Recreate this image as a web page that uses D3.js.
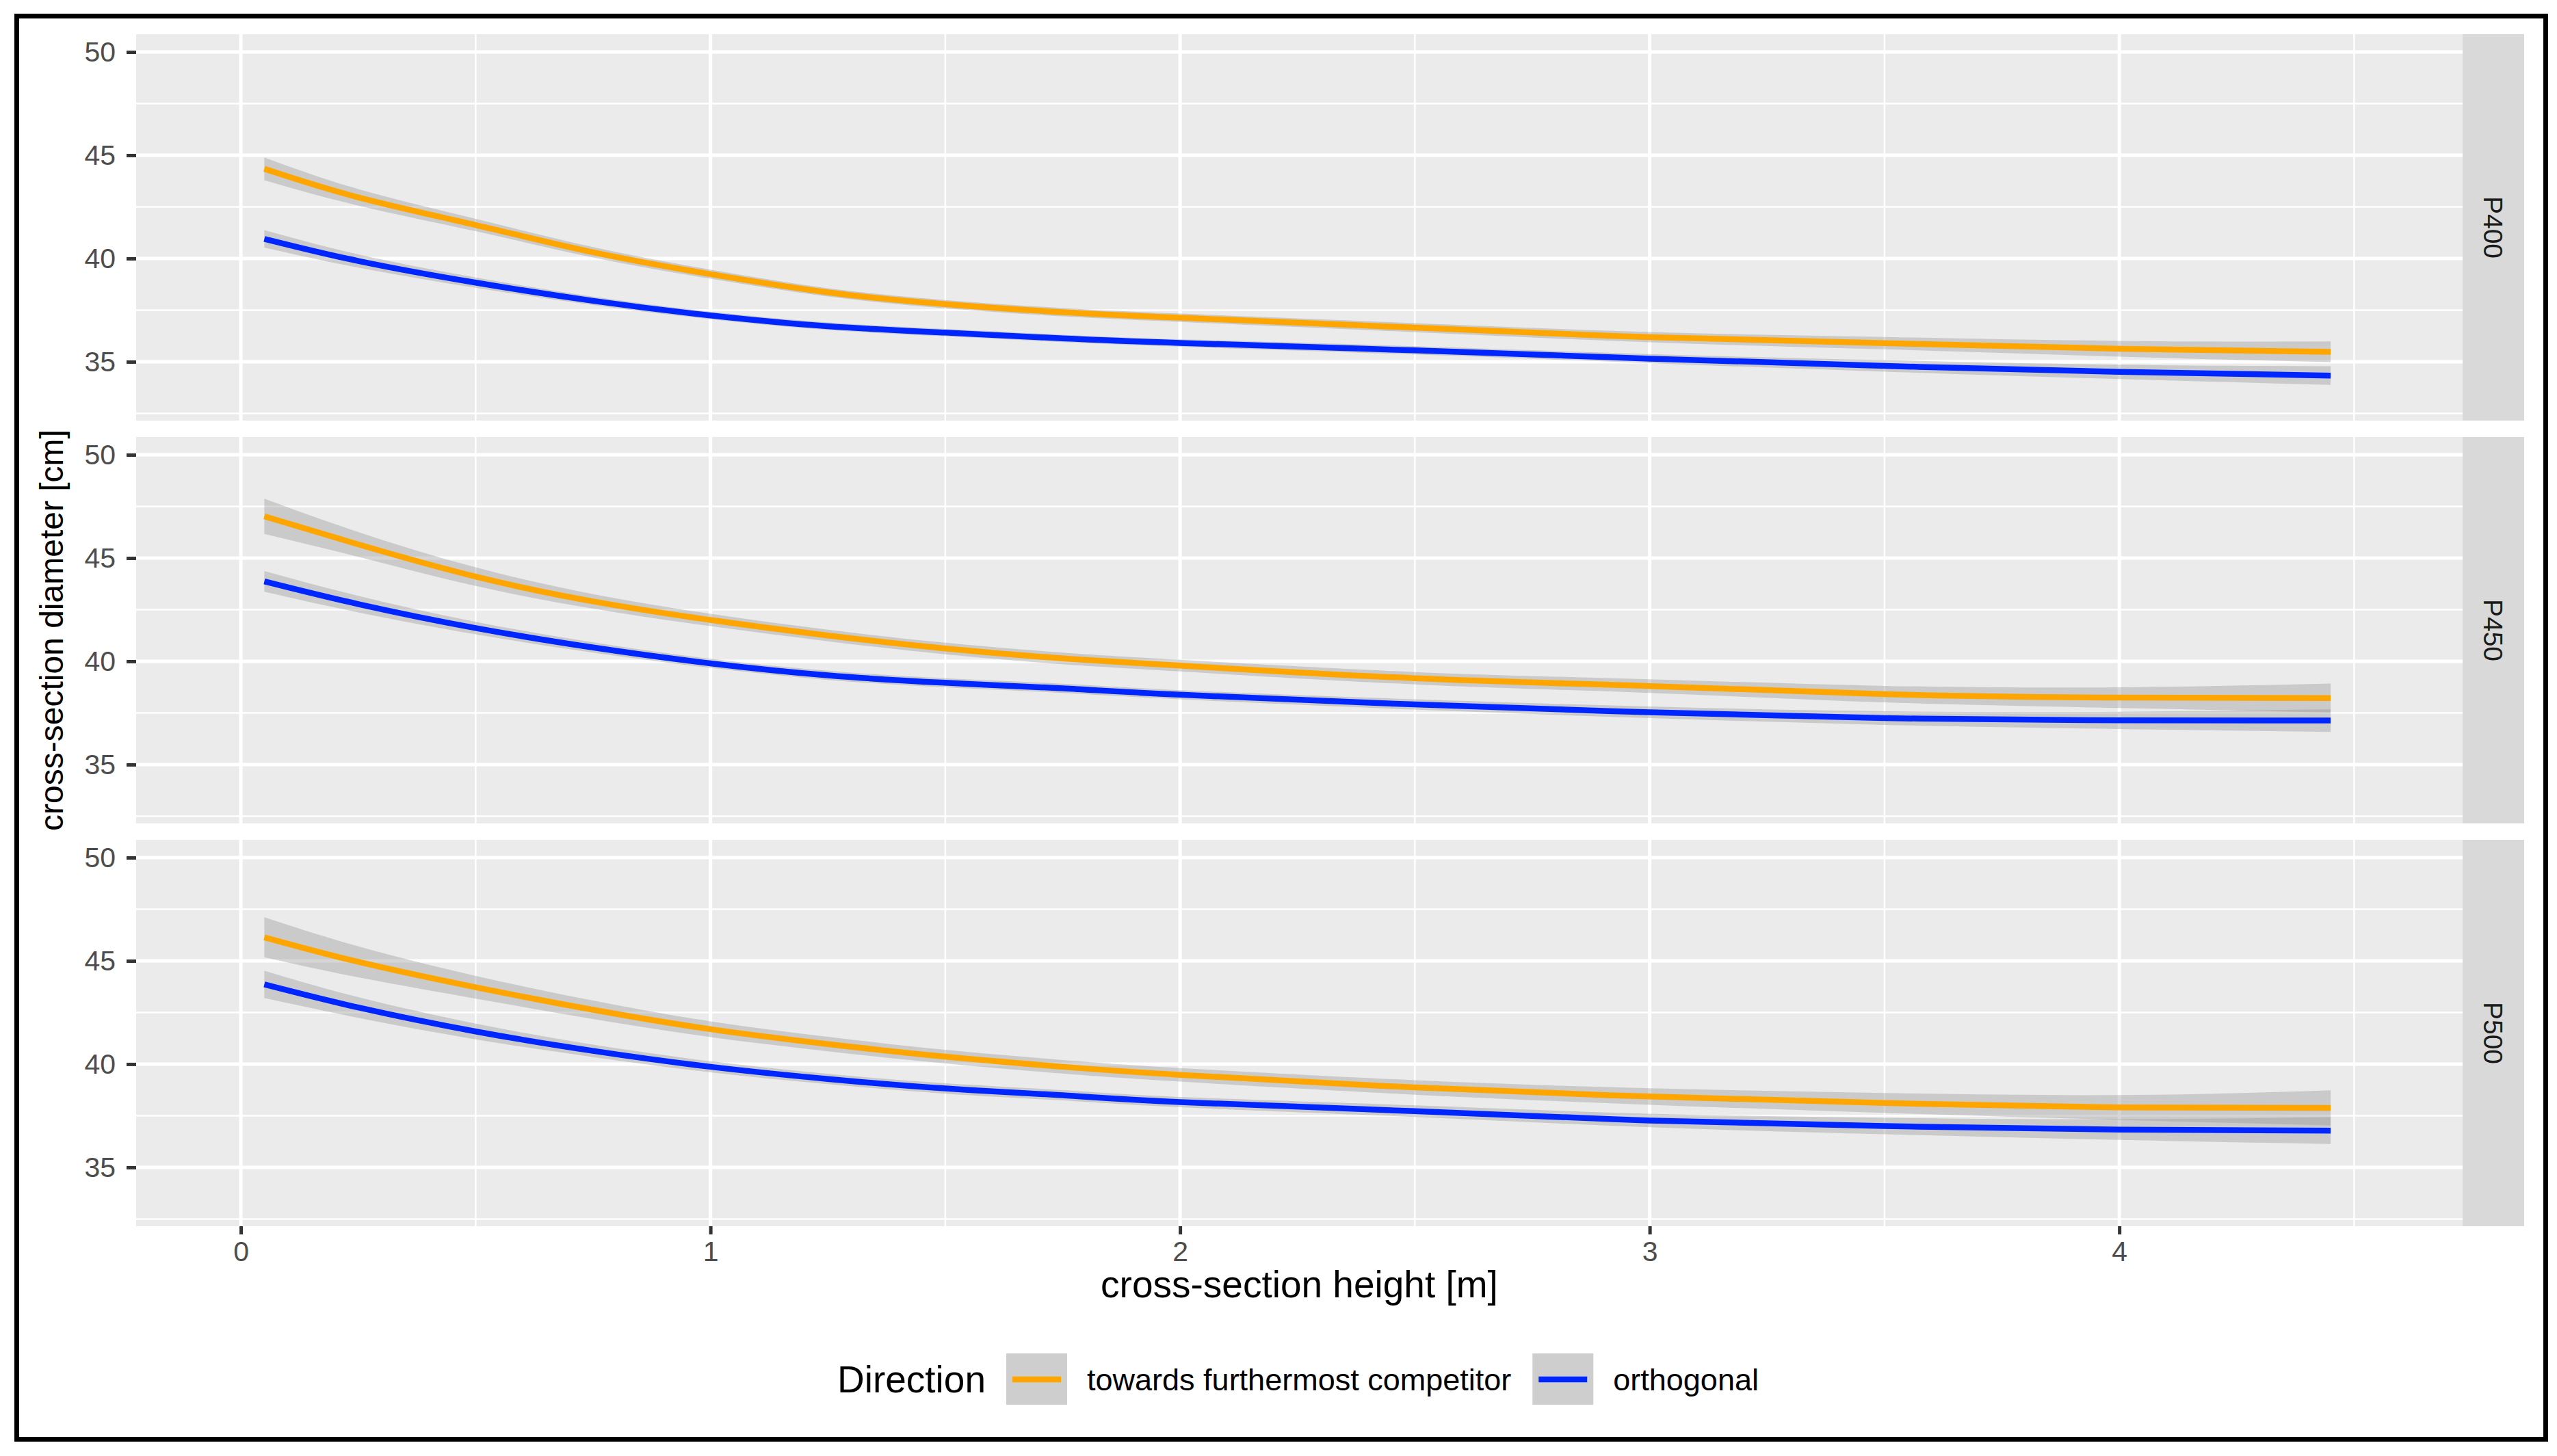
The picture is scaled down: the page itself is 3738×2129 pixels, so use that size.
<!DOCTYPE html>
<html lang="en">
<head>
  <meta charset="UTF-8">
  <title>Cross-section diameter by height</title>
  <script src="https://d3js.org/d3.v7.min.js"></script>
  <style>
    html, body { margin: 0; padding: 0; background: #fff; }
    svg text { font-family: "Liberation Sans", Arial, Helvetica, sans-serif; }
  </style>
</head>
<body>
  <svg id="chart" width="3738" height="2129"></svg>

  <script>
    // heights along the stem where the smooth was read [m]
    const heights = [0.05, 0.25, 0.5, 0.75, 1, 1.25, 1.5, 1.75, 2, 2.5, 3, 3.5, 4, 4.45];

    const facets     = ["P400", "P450", "P500"];
    const directions = ["towards furthermost competitor", "orthogonal"];
    const dirColors  = ["#FFA500", "#0026FF"];

    const xTicks = [0, 1, 2, 3, 4];
    const yTicks = [35, 40, 45, 50];

    // fitted diameter [cm]
    const p400Towards    = [44.34, 42.96, 41.62, 40.30, 39.24, 38.36, 37.79, 37.40, 37.13, 36.65, 36.19, 35.90, 35.63, 35.48];
    const p400Orthogonal = [40.95, 39.88, 38.83, 37.95, 37.24, 36.72, 36.41, 36.13, 35.91, 35.55, 35.15, 34.80, 34.51, 34.33];
    const p450Towards    = [47.02, 45.66, 44.10, 42.90, 42.00, 41.25, 40.62, 40.14, 39.79, 39.18, 38.80, 38.41, 38.24, 38.22];
    const p450Orthogonal = [43.87, 42.77, 41.61, 40.67, 39.90, 39.32, 38.96, 38.69, 38.38, 37.91, 37.53, 37.25, 37.14, 37.13];
    const p500Towards    = [46.14, 44.95, 43.72, 42.63, 41.69, 40.97, 40.36, 39.87, 39.48, 38.87, 38.43, 38.12, 37.90, 37.88];
    const p500Orthogonal = [43.86, 42.74, 41.58, 40.64, 39.87, 39.28, 38.82, 38.49, 38.16, 37.72, 37.27, 37.00, 36.83, 36.78];

    // half width of the confidence band [cm]
    const p400TowardsCi    = [0.55, 0.40, 0.30, 0.25, 0.22, 0.20, 0.20, 0.20, 0.20, 0.22, 0.25, 0.30, 0.38, 0.50];
    const p400OrthogonalCi = [0.42, 0.32, 0.25, 0.20, 0.18, 0.18, 0.18, 0.18, 0.18, 0.20, 0.22, 0.28, 0.35, 0.45];
    const p450TowardsCi    = [0.85, 0.60, 0.45, 0.35, 0.30, 0.28, 0.28, 0.28, 0.28, 0.30, 0.33, 0.40, 0.50, 0.70];
    const p450OrthogonalCi = [0.50, 0.40, 0.30, 0.25, 0.22, 0.22, 0.22, 0.22, 0.22, 0.25, 0.28, 0.33, 0.42, 0.55];
    const p500TowardsCi    = [0.97, 0.75, 0.55, 0.45, 0.38, 0.35, 0.33, 0.33, 0.33, 0.35, 0.40, 0.48, 0.60, 0.85];
    const p500OrthogonalCi = [0.66, 0.50, 0.38, 0.30, 0.27, 0.25, 0.25, 0.25, 0.25, 0.28, 0.33, 0.40, 0.50, 0.65];

    const fits = [[p400Towards, p400Orthogonal], [p450Towards, p450Orthogonal], [p500Towards, p500Orthogonal]];
    const cis  = [[p400TowardsCi, p400OrthogonalCi], [p450TowardsCi, p450OrthogonalCi], [p500TowardsCi, p500OrthogonalCi]];

    const svg = d3.select("#chart");

    // layout
    const left = 199, right = 3600;
    const panelH = 565, panelGap = 24, top0 = 50;
    const stripW = 90;

    const x = d3.scaleLinear().domain([-0.223, 4.731]).range([left, right]);
    const y = d3.scaleLinear().domain([32.15, 50.86]).range([panelH, 0]);

    // outer frame
    svg.append("rect")
      .attr("x", 24.5).attr("y", 23.5)
      .attr("width", 3697).attr("height", 2081)
      .attr("fill", "#fff")
      .attr("stroke", "#000")
      .attr("stroke-width", 7);

    const line = d3.line().curve(d3.curveNatural);
    const area = d3.area().curve(d3.curveNatural);

    facets.forEach((facet, fi) => {
      const g = svg.append("g")
        .attr("transform", `translate(0,${top0 + fi * (panelH + panelGap)})`);

      // panel background
      g.append("rect")
        .attr("x", left).attr("y", 0)
        .attr("width", right - left).attr("height", panelH)
        .attr("fill", "#EBEBEB");

      // minor grid
      const yMinor = [32.5, 37.5, 42.5, 47.5];
      const xMinor = [0.5, 1.5, 2.5, 3.5, 4.5];
      g.append("g").selectAll("line").data(yMinor).join("line")
        .attr("x1", left).attr("x2", right)
        .attr("y1", d => y(d)).attr("y2", d => y(d))
        .attr("stroke", "#fff").attr("stroke-width", 2.5);
      g.append("g").selectAll("line").data(xMinor).join("line")
        .attr("x1", d => x(d)).attr("x2", d => x(d))
        .attr("y1", 0).attr("y2", panelH)
        .attr("stroke", "#fff").attr("stroke-width", 2.5);

      // major grid
      g.append("g").selectAll("line").data(yTicks).join("line")
        .attr("x1", left).attr("x2", right)
        .attr("y1", d => y(d)).attr("y2", d => y(d))
        .attr("stroke", "#fff").attr("stroke-width", 5);
      g.append("g").selectAll("line").data(xTicks).join("line")
        .attr("x1", d => x(d)).attr("x2", d => x(d))
        .attr("y1", 0).attr("y2", panelH)
        .attr("stroke", "#fff").attr("stroke-width", 5);

      // confidence ribbons
      directions.forEach((dir, di) => {
        const fit = fits[fi][di], ci = cis[fi][di];
        const rows = heights.map((h, i) => ({ h, lo: fit[i] - ci[i], hi: fit[i] + ci[i] }));
        g.append("path")
          .attr("d", area.x(d => x(d.h)).y0(d => y(d.lo)).y1(d => y(d.hi))(rows))
          .attr("fill", "#999999")
          .attr("fill-opacity", 0.4);
      });

      // smooth lines
      directions.forEach((dir, di) => {
        const fit = fits[fi][di];
        g.append("path")
          .attr("d", line.x(d => x(d[0])).y(d => y(d[1]))(heights.map((h, i) => [h, fit[i]])))
          .attr("fill", "none")
          .attr("stroke", dirColors[di])
          .attr("stroke-width", 8.5);
      });

      // y axis
      const yAxis = g.append("g")
        .attr("transform", `translate(${left},0)`)
        .call(d3.axisLeft(y).tickValues(yTicks).tickSize(14).tickPadding(16));
      yAxis.select(".domain").remove();
      yAxis.selectAll("line").attr("stroke", "#333").attr("stroke-width", 5);
      yAxis.selectAll("text")
        .attr("fill", "#4D4D4D")
        .style("font-size", "41px");

      // facet strip
      g.append("rect")
        .attr("x", right).attr("y", 0)
        .attr("width", stripW).attr("height", panelH)
        .attr("fill", "#D9D9D9");
      g.append("text")
        .attr("transform", `translate(${right + stripW / 2},${panelH / 2}) rotate(90)`)
        .attr("text-anchor", "middle")
        .attr("dy", "0.35em")
        .attr("fill", "#1A1A1A")
        .style("font-size", "39px")
        .text(facet);

      // x axis on the bottom panel only
      if (fi === facets.length - 1) {
        const xAxis = g.append("g")
          .attr("transform", `translate(0,${panelH})`)
          .call(d3.axisBottom(x).tickValues(xTicks).tickFormat(d3.format("d")).tickSize(12).tickPadding(10));
        xAxis.select(".domain").remove();
        xAxis.selectAll("line").attr("stroke", "#333").attr("stroke-width", 5);
        xAxis.selectAll("text")
          .attr("fill", "#4D4D4D")
          .style("font-size", "41px");
      }
    });

    // axis titles
    svg.append("text")
      .attr("x", (left + right) / 2).attr("y", 1897)
      .attr("text-anchor", "middle")
      .attr("fill", "#000")
      .style("font-size", "55px")
      .text("cross-section height [m]");

    svg.append("text")
      .attr("transform", `translate(92,${top0 + (3 * panelH + 2 * panelGap) / 2}) rotate(-90)`)
      .attr("text-anchor", "middle")
      .attr("fill", "#000")
      .style("font-size", "48px")
      .text("cross-section diameter [cm]");

    // legend
    const legend = svg.append("g").attr("transform", "translate(0,2017)");
    const title = legend.append("text")
      .attr("x", 1224).attr("dy", "0.35em")
      .attr("fill", "#000")
      .style("font-size", "55px")
      .text("Direction");

    let cx = 1224 + title.node().getComputedTextLength() + 30;
    directions.forEach((dir, di) => {
      legend.append("rect")
        .attr("x", cx).attr("y", -38)
        .attr("width", 89).attr("height", 75)
        .attr("fill", "#CECECE");
      legend.append("line")
        .attr("x1", cx + 9).attr("x2", cx + 80)
        .attr("y1", 0).attr("y2", 0)
        .attr("stroke", dirColors[di])
        .attr("stroke-width", 8.5);
      const lab = legend.append("text")
        .attr("x", cx + 89 + 29).attr("dy", "0.35em")
        .attr("fill", "#000")
        .style("font-size", "45px")
        .text(dir);
      cx += 89 + 29 + lab.node().getComputedTextLength() + 31;
    });
  </script>
</body>
</html>
